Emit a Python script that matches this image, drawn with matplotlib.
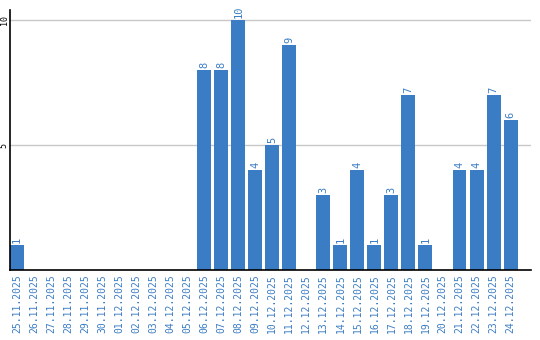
import matplotlib
matplotlib.use("Agg")
import matplotlib.pyplot as plt

dates = ["25.11.2025", "26.11.2025", "27.11.2025", "28.11.2025", "29.11.2025", "30.11.2025",
         "01.12.2025", "02.12.2025", "03.12.2025", "04.12.2025", "05.12.2025", "06.12.2025",
         "07.12.2025", "08.12.2025", "09.12.2025", "10.12.2025", "11.12.2025", "12.12.2025",
         "13.12.2025", "14.12.2025", "15.12.2025", "16.12.2025", "17.12.2025", "18.12.2025",
         "19.12.2025", "20.12.2025", "21.12.2025", "22.12.2025", "23.12.2025", "24.12.2025"]
values = [1, 0, 0, 0, 0, 0, 0, 0, 0, 0, 0, 8, 8, 10, 4, 5, 9, 0, 3, 1, 4, 1, 3, 7, 1, 0, 4, 4, 7, 6]
yticks = [5, 10]

blue = "#3b7dc4"
fig = plt.figure(figsize=(5.4, 3.4), dpi=100)
ax = fig.add_axes([10/540, 70/340, 521/540, 260/340])
x = list(range(len(dates)))
ax.bar(x, values, width=0.82, color=blue, zorder=2)
for xi, v in zip(x, values):
    if v > 0:
        ax.text(xi, v + 0.08, str(v), rotation=90, ha="center", va="bottom",
                color=blue, fontsize=7.5, family="DejaVu Sans Mono")
ax.set_xlim(-0.41, 30.2)
ax.set_ylim(0, 10.4)
ax.set_yticks(yticks)
ax.set_yticklabels([str(t) for t in yticks], rotation=90, va="center", fontsize=6,
                   family="DejaVu Sans Mono")
ax.set_xticks(x)
ax.set_xticklabels(dates, rotation=90, color=blue, fontsize=7, family="DejaVu Sans Mono")
ax.tick_params(axis="both", length=0, pad=3)
ax.tick_params(axis="y", pad=1)
ax.grid(axis="y", color="#c8c8c8", linewidth=1, zorder=0)
for s in ["top", "right"]:
    ax.spines[s].set_visible(False)
for s in ["left", "bottom"]:
    ax.spines[s].set_linewidth(1.2)
    ax.spines[s].set_color("black")
fig.savefig("out.png", dpi=100)
